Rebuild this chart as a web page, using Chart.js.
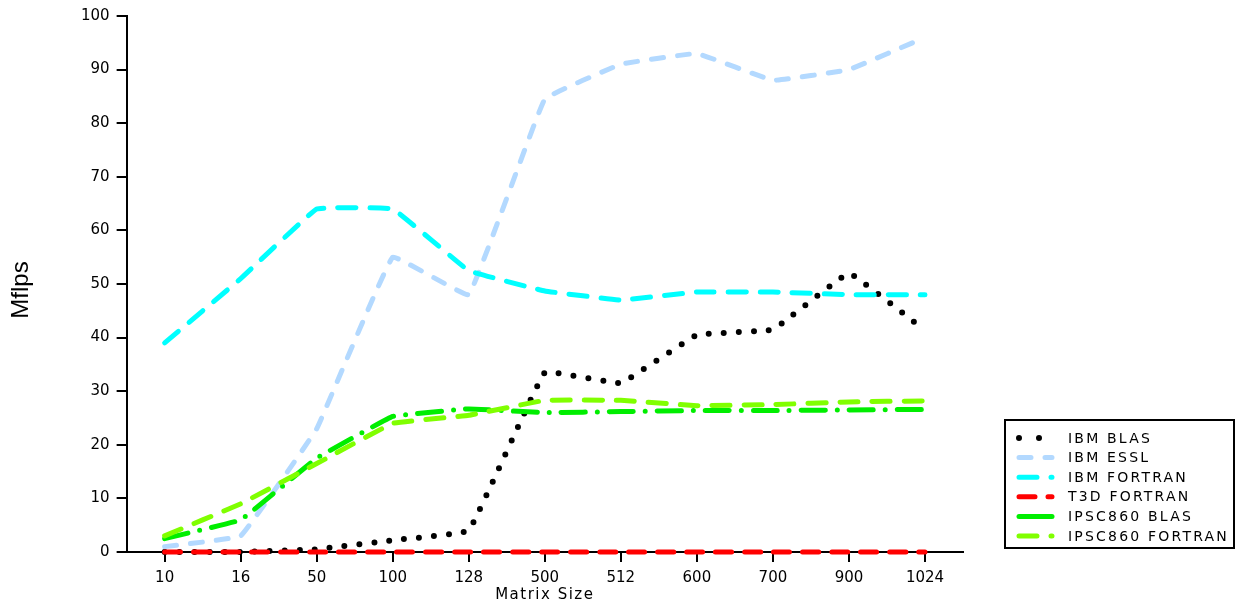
<!DOCTYPE html>
<html lang="en">
<head>
  <meta charset="UTF-8" />
  <title>Mflps vs Matrix Size</title>
  <script src="https://cdn.jsdelivr.net/npm/chart.js"></script>
  <style>
    body {
      margin: 0;
      background: #ffffff;
    }
    canvas {
      display: block;
    }
  </style>
</head>
<body>

<canvas id="mflpsChart" width="1235" height="605"></canvas>

<script>
  // data
  const matrixSizes = ['10', '16', '50', '100', '128', '500', '512', '600', '700', '900', '1024'];
  const ibmBlas = [0, 0, 0.5, 2.2, 4, 33.5, 31.5, 40.5, 41.5, 52, 41.3];
  const ibmEssl = [1, 3, 23, 55, 48, 84.5, 91, 93, 88, 90, 96];
  const ibmFortran = [39, 51, 64, 64, 52.5, 48.7, 47, 48.5, 48.5, 48, 48];
  const t3dFortran = [0, 0, 0, 0, 0, 0, 0, 0, 0, 0, 0];
  const ipscBlas = [2.5, 6, 17.5, 25.3, 26.7, 26, 26.2, 26.4, 26.4, 26.5, 26.6];
  const ipscFortran = [3, 9, 16.5, 24, 25.5, 28.3, 28.3, 27.3, 27.5, 28, 28.2];
  const yTicks = [0, 10, 20, 30, 40, 50, 60, 70, 80, 90, 100];

  const tickFont = { family: 'DejaVu Sans', size: 15 };

  function series(label, data, color, dash, i) {
    return {
      label: label,
      data: data,
      borderColor: color,
      backgroundColor: color,
      borderWidth: 5,
      borderDash: dash,
      borderCapStyle: 'round',
      pointRadius: 0,
      tension: 0.06,
      clip: false,
      fill: false,
      order: 10 - i   // later series painted on top
    };
  }

  // axis titles and the boxed legend are drawn by hand (wide letter spacing)
  const boxLegend = {
    id: 'boxLegend',
    afterDraw(chart) {
      const ctx = chart.ctx;
      const area = chart.chartArea;
      ctx.save();

      // axis titles
      ctx.fillStyle = '#000';
      ctx.textAlign = 'center';
      ctx.textBaseline = 'middle';
      ctx.font = '15px "DejaVu Sans"';
      ctx.letterSpacing = '1.5px';
      ctx.fillText('Matrix Size', (area.left + area.right) / 2, 595);

      ctx.save();
      ctx.translate(21, 290);
      ctx.rotate(-Math.PI / 2);
      ctx.letterSpacing = '0px';
      ctx.font = '24px "Liberation Sans"';
      ctx.fillText('Mflps', 0, 0);
      ctx.restore();

      // legend box
      const left = 1005, top = 420, right = 1234, bottom = 548;
      ctx.strokeStyle = '#000';
      ctx.lineWidth = 2;
      ctx.strokeRect(left, top, right - left, bottom - top);

      ctx.textAlign = 'left';
      chart.data.datasets.forEach((ds, i) => {
        const y = 438 + i * 19.6;
        ctx.beginPath();
        ctx.strokeStyle = ds.borderColor;
        ctx.lineWidth = ds.borderWidth;
        ctx.lineCap = 'round';
        ctx.setLineDash(ds.legendDash || ds.borderDash || []);
        ctx.moveTo(1019, y);
        ctx.lineTo(1052, y);
        ctx.stroke();

        ctx.setLineDash([]);
        ctx.fillStyle = '#000';
        ctx.font = '14px "DejaVu Sans"';
        ctx.letterSpacing = '2.2px';
        ctx.fillText(ds.label, 1068, y + 1);
      });
      ctx.restore();
    }
  };

  const datasets = [
    series('IBM BLAS', ibmBlas, '#000000', [0, 15], 0),
    series('IBM ESSL', ibmEssl, '#b3d9ff', [12, 14], 1),
    series('IBM FORTRAN', ibmFortran, '#00ffff', [18, 14], 2),
    series('T3D FORTRAN', t3dFortran, '#ff0000', [16, 13], 3),
    series('IPSC860 BLAS', ipscBlas, '#00ee00', [24, 12, 0, 12], 4),
    series('IPSC860 FORTRAN', ipscFortran, '#80ff00', [18, 14], 5)
  ];
  datasets[0].borderWidth = 6;
  datasets[0].legendDash = [0, 20];
  datasets[4].legendDash = [];

  new Chart(document.getElementById('mflpsChart'), {
    type: 'line',
    data: { labels: matrixSizes, datasets: datasets },
    options: {
      responsive: false,
      animation: false,
      layout: {
        padding: { left: 74, right: 272, top: 9, bottom: 11 }
      },
      plugins: {
        legend: { display: false },
        tooltip: { enabled: false }
      },
      scales: {
        x: {
          offset: true,
          grid: {
            offset: false,
            drawOnChartArea: false,
            color: '#000',
            lineWidth: 2,
            tickLength: 10
          },
          border: { color: '#000', width: 2 },
          ticks: { color: '#000', font: tickFont, padding: 7, maxRotation: 0 }
        },
        y: {
          min: 0,
          max: 100,
          afterBuildTicks(axis) {
            axis.ticks = yTicks.map(v => ({ value: v }));
          },
          grid: {
            drawOnChartArea: false,
            color: '#000',
            lineWidth: 2,
            tickLength: 10
          },
          border: { color: '#000', width: 2 },
          ticks: { color: '#000', font: tickFont, padding: 7 }
        }
      }
    },
    plugins: [boxLegend]
  });
</script>

</body>
</html>
